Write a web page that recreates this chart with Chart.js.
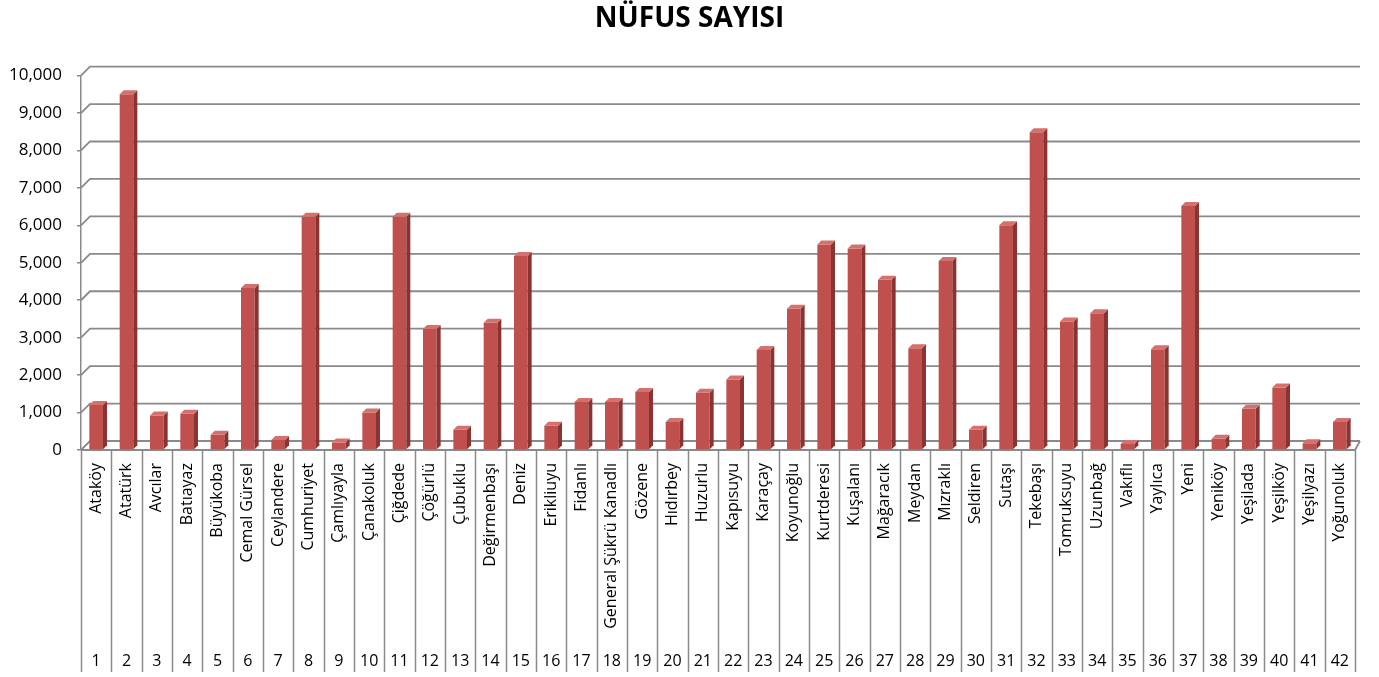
<!DOCTYPE html>
<html>
<head>
<meta charset="utf-8">
<script src="https://cdn.jsdelivr.net/npm/chart.js@4/dist/chart.umd.min.js"></script>
<style>
  html, body { margin: 0; padding: 0; background: #ffffff; }
  #wrap { width: 1379px; height: 677px; position: relative; }
</style>
</head>
<body>
<div id="wrap"><canvas id="c" width="1379" height="677"></canvas></div>
<script>
const chartTitle = 'NÜFUS SAYISI';
const categories = ['Ataköy','Atatürk','Avcılar','Batıayaz','Büyükoba','Cemal Gürsel','Ceylandere','Cumhuriyet','Çamlıyayla','Çanakoluk','Çiğdede','Çöğürlü','Çubuklu','Değirmenbaşı','Deniz','Erikliuyu','Fidanlı','General Şükrü Kanadlı','Gözene','Hıdırbey','Huzurlu','Kapısuyu','Karaçay','Koyunoğlu','Kurtderesi','Kuşalanı','Mağaracık','Meydan','Mızraklı','Seldiren','Sutaşı','Tekebaşı','Tomruksuyu','Uzunbağ','Vakıflı','Yaylıca','Yeni','Yeniköy','Yeşilada','Yeşilköy','Yeşilyazı','Yoğunoluk'];
const rowNumbers = ['1','2','3','4','5','6','7','8','9','10','11','12','13','14','15','16','17','18','19','20','21','22','23','24','25','26','27','28','29','30','31','32','33','34','35','36','37','38','39','40','41','42'];
const population = [1200,9500,920,970,410,4330,270,6230,200,1000,6230,3230,540,3400,5180,650,1280,1280,1550,745,1530,1880,2670,3770,5490,5380,4550,2715,5045,540,6000,8490,3430,3655,160,2690,6520,300,1100,1670,180,745];
const yTicks = [0,1000,2000,3000,4000,5000,6000,7000,8000,9000,10000];

const GRID = '#8a8a8a';
const DEPTH = 9;

const wallPlugin = {
  id: 'wall',
  beforeDatasetsDraw(chart) {
    const ctx = chart.ctx, y = chart.scales.y, ca = chart.chartArea;
    ctx.save();
    ctx.strokeStyle = GRID;
    ctx.lineWidth = 1.8;
    yTicks.forEach(v => {
      const yp = y.getPixelForValue(v);
      ctx.beginPath();
      ctx.moveTo(ca.left, yp);
      ctx.lineTo(ca.left + DEPTH, yp - DEPTH);
      ctx.lineTo(ca.right + 5, yp - DEPTH);
      ctx.stroke();
    });
    const yb = y.getPixelForValue(0);
    ctx.beginPath();
    ctx.moveTo(ca.left, yb);
    ctx.lineTo(ca.right, yb);
    ctx.lineTo(ca.right + 5, yb - DEPTH);
    ctx.stroke();
    ctx.restore();
  }
};

const bar3dPlugin = {
  id: 'bar3d',
  afterDatasetsDraw(chart) {
    const ctx = chart.ctx;
    const meta = chart.getDatasetMeta(0);
    const d = 4;
    ctx.save();
    meta.data.forEach(el => {
      const p = el.getProps(['x','y','base','width'], true);
      const l = p.x - p.width / 2, r = p.x + p.width / 2;
      ctx.fillStyle = '#8a3431';
      ctx.beginPath();
      ctx.moveTo(r, p.y); ctx.lineTo(r + d, p.y - d); ctx.lineTo(r + d, p.base - d); ctx.lineTo(r, p.base);
      ctx.closePath(); ctx.fill();
      ctx.fillStyle = '#d4706d';
      ctx.beginPath();
      ctx.moveTo(l, p.y); ctx.lineTo(l + d, p.y - d); ctx.lineTo(r + d, p.y - d); ctx.lineTo(r, p.y);
      ctx.closePath(); ctx.fill();
    });
    ctx.restore();
  }
};

const tablePlugin = {
  id: 'table',
  afterDraw(chart) {
    const ctx = chart.ctx, x = chart.scales.x, ca = chart.chartArea;
    const n = categories.length;
    const step = x.width / n;
    ctx.save();
    ctx.strokeStyle = GRID;
    ctx.lineWidth = 1.5;
    for (let i = 0; i <= n; i++) {
      const xp = Math.round(x.left + i * step) + 0.5;
      ctx.beginPath();
      ctx.moveTo(xp, ca.bottom);
      ctx.lineTo(xp, 672);
      ctx.stroke();
    }
    ctx.restore();
  }
};

new Chart(document.getElementById('c'), {
  type: 'bar',
  data: {
    labels: categories,
    datasets: [{
      data: population,
      backgroundColor: '#c0504d',
      borderWidth: 0,
      barPercentage: 0.45,
      categoryPercentage: 1.0
    }]
  },
  options: {
    responsive: false,
    animation: false,
    devicePixelRatio: 1,
    layout: { padding: { left: 0, right: 0, top: 0, bottom: 3 } },
    plugins: {
      legend: { display: false },
      tooltip: { enabled: false },
      title: {
        display: true,
        text: chartTitle,
        color: '#000',
        font: { family: 'Open Sans', size: 28, weight: 'bold' },
        padding: { top: 2, bottom: 40 }
      }
    },
    scales: {
      x: {
        type: 'category',
        position: 'bottom',
        labels: categories,
        grid: { display: false, drawTicks: false },
        border: { display: false },
        ticks: {
          autoSkip: false, minRotation: 90, maxRotation: 90,
          padding: 13, color: '#000',
          font: { family: 'Open Sans', size: 16 }
        },
        afterFit(s) { s.height = 196; }
      },
      x2: {
        type: 'category',
        position: 'bottom',
        labels: rowNumbers,
        offset: true,
        grid: { display: false, drawTicks: false },
        border: { display: false },
        ticks: {
          autoSkip: false, maxRotation: 0, minRotation: 0,
          padding: 6, color: '#000',
          font: { family: 'Open Sans', size: 16 }
        },
        afterFit(s) { s.height = 28; }
      },
      y: {
        min: 0, max: 10000,
        afterBuildTicks(s) { s.ticks = yTicks.map(v => ({ value: v })); },
        grid: { drawOnChartArea: false, drawTicks: true, tickLength: 4, color: GRID, lineWidth: 1.5 },
        border: { display: true, color: GRID, width: 1.5 },
        ticks: {
          padding: 15, color: '#000',
          font: { family: 'Open Sans', size: 17 },
          callback: v => Number(v).toLocaleString('en-US')
        },
        afterFit(s) { s.width = 81; }
      },
      yRight: {
        position: 'right',
        min: 0, max: 10000,
        grid: { display: false, drawOnChartArea: false },
        border: { display: false },
        ticks: { display: false },
        afterFit(s) { s.width = 24; }
      }
    }
  },
  plugins: [wallPlugin, bar3dPlugin, tablePlugin]
});
</script>
</body>
</html>
